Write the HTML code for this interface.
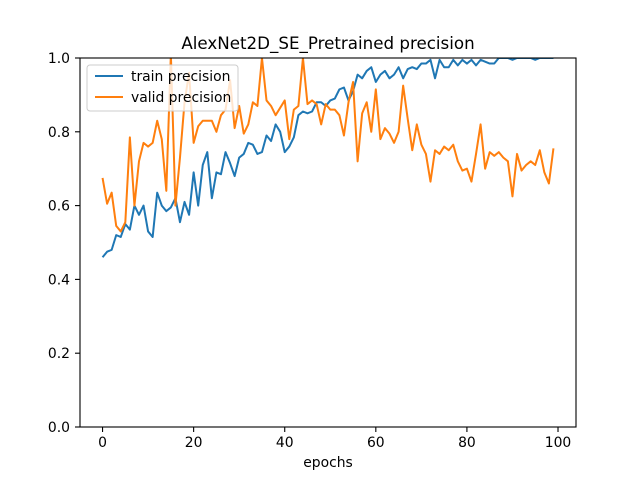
<!DOCTYPE html>
<html><head><meta charset="utf-8"><style>
html,body{margin:0;padding:0;background:#fff;}
svg{display:block;font-family:"DejaVu Sans","Liberation Sans",sans-serif;}
</style></head><body>
<svg id="chart" width="640" height="480" viewBox="0 0 640 480">
<defs><clipPath id="clip"><rect x="80" y="58" width="496" height="369"/></clipPath></defs>
<rect x="0" y="0" width="640" height="480" fill="#fff"/>
<text x="328" y="49" text-anchor="middle" font-size="16.7" fill="#000">AlexNet2D_SE_Pretrained precision</text>
<g id="series" clip-path="url(#clip)"></g>
<g id="axes"></g>
<text x="328" y="467" text-anchor="middle" font-size="13.9">epochs</text>
<g>
<rect x="87" y="65" width="151" height="46" rx="3" fill="#fff" fill-opacity="0.8" stroke="#ccc"/>
<line x1="95" y1="76" x2="123" y2="76" stroke="#1f77b4" stroke-width="2"/>
<text x="131" y="81" font-size="13.9">train precision</text>
<line x1="95" y1="97" x2="123" y2="97" stroke="#ff7f0e" stroke-width="2"/>
<text x="131" y="102" font-size="13.9">valid precision</text>
</g>
</svg>
<script>
const train = [0.46,0.475,0.48,0.52,0.515,0.55,0.535,0.60,0.575,0.60,0.53,0.515,0.635,0.60,0.585,0.595,0.62,0.555,0.61,0.575,0.69,0.60,0.71,0.745,0.62,0.69,0.685,0.745,0.715,0.68,0.73,0.74,0.77,0.765,0.74,0.745,0.79,0.775,0.82,0.80,0.745,0.76,0.785,0.845,0.855,0.85,0.855,0.88,0.88,0.87,0.885,0.89,0.915,0.92,0.885,0.91,0.955,0.945,0.965,0.975,0.935,0.955,0.965,0.945,0.955,0.975,0.945,0.97,0.975,0.97,0.985,0.985,0.995,0.945,0.995,0.975,0.975,0.995,0.98,0.995,0.985,0.995,0.98,0.995,0.99,0.985,0.985,1.0,1.0,1.0,0.995,1.0,1.0,1.0,1.0,0.995,1.0,1.0,1.0,1.0];
const valid = [0.675,0.605,0.635,0.545,0.53,0.555,0.785,0.60,0.72,0.77,0.76,0.77,0.83,0.78,0.64,1.01,0.60,0.73,0.88,0.96,0.77,0.815,0.83,0.83,0.83,0.80,0.845,0.86,0.94,0.81,0.87,0.795,0.82,0.88,0.87,1.0,0.885,0.87,0.845,0.865,0.885,0.78,0.86,0.87,1.0,0.875,0.885,0.875,0.82,0.875,0.86,0.86,0.845,0.79,0.88,0.935,0.72,0.85,0.88,0.80,0.915,0.78,0.81,0.795,0.77,0.80,0.925,0.835,0.75,0.82,0.765,0.74,0.665,0.75,0.74,0.76,0.75,0.765,0.72,0.695,0.70,0.665,0.74,0.82,0.70,0.745,0.735,0.745,0.73,0.72,0.625,0.74,0.695,0.71,0.72,0.71,0.75,0.69,0.66,0.755];
const xTicks = [0,20,40,60,80,100];
const yTicks = [0.0,0.2,0.4,0.6,0.8,1.0];
const yTickLabels = ["0.0","0.2","0.4","0.6","0.8","1.0"];

const NS="http://www.w3.org/2000/svg";
const L=80,R=576,T=58,B=427, xmin=-4.95, xmax=103.95, ymin=0, ymax=1;
const X=v=>L+(v-xmin)/(xmax-xmin)*(R-L);
const Y=v=>B-(v-ymin)/(ymax-ymin)*(B-T);
function mk(tag,attrs,parent){const e=document.createElementNS(NS,tag);for(const k in attrs)e.setAttribute(k,attrs[k]);parent.appendChild(e);return e;}
const sg=document.getElementById('series'), ag=document.getElementById('axes');
function line(data,color,name){
  const p=mk('polyline',{points:data.map((v,i)=>X(i).toFixed(2)+','+Y(v).toFixed(2)).join(' '),fill:'none',stroke:color,'stroke-width':2,'stroke-linejoin':'round'},sg);
  
  
}
line(train,'#1f77b4','train-precision-line');
line(valid,'#ff7f0e','valid-precision-line');
const frame=mk('rect',{x:L,y:T,width:R-L,height:B-T,fill:'none',stroke:'#000','stroke-width':1.1},ag);


xTicks.forEach(t=>{
  const x=X(t);
  const tk=mk('line',{x1:x,y1:B,x2:x,y2:B+5,stroke:'#000','stroke-width':1.1},ag);
  
  
  const tx=mk('text',{x:x,y:B+20,'text-anchor':'middle','font-size':13.9},ag);
  tx.textContent=t;
  
  
});
yTicks.forEach((t,i)=>{
  const y=Y(t);
  const tk=mk('line',{x1:L-5,y1:y,x2:L,y2:y,stroke:'#000','stroke-width':1.1},ag);
  
  
  const tx=mk('text',{x:L-10,y:y+5,'text-anchor':'end','font-size':13.9},ag);
  tx.textContent=yTickLabels[i];
  
  
});
</script>
</body></html>
